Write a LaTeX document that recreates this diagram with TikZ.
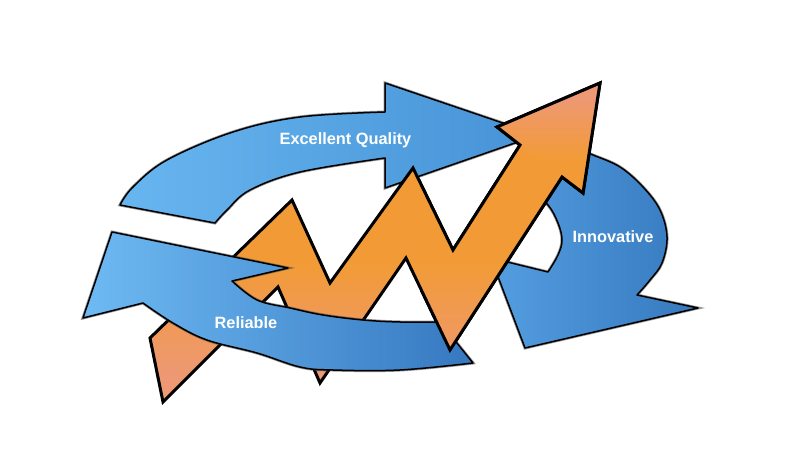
\documentclass[tikz,border=0pt]{standalone}
\usepackage{fontspec}
\newfontfamily\labfont{Liberation Sans}
\definecolor{orangeC}{RGB}{242,155,54}
\definecolor{salmonC}{RGB}{238,152,116}
\definecolor{eqL}{RGB}{104,182,240}
\definecolor{eqR}{RGB}{70,146,214}
\definecolor{inL}{RGB}{84,158,224}
\definecolor{inR}{RGB}{54,120,190}
\definecolor{reL}{RGB}{110,186,243}
\definecolor{reR}{RGB}{54,120,192}
\pgfdeclareverticalshading{orsh}{100bp}{color(0bp)=(salmonC); color(29bp)=(salmonC); color(47bp)=(orangeC); color(100bp)=(orangeC)}
\pgfdeclareverticalshading{headsh}{100bp}{color(0bp)=(orangeC); color(40bp)=(orangeC); color(68bp)=(salmonC); color(100bp)=(salmonC)}
\tikzset{
  bluearrow/.style={draw=black, line width=1.5bp, line join=round,
    preaction={draw=black!75, line width=3bp, opacity=0.55}},
  orangeline/.style={draw=black, line width=3bp, line join=miter},
  lab/.style={text=white, font=\labfont\bfseries\fontsize{16.4}{19}\selectfont, inner sep=0pt}
}
\begin{document}
\begin{tikzpicture}[x=1bp,y=-1bp]
\useasboundingbox (0,0) rectangle (800,450);
\fill[white] (0,0) rectangle (800,450);

% orange zigzag vertices
\coordinate (T1) at (150,338);
\coordinate (P1o) at (292,200);
\coordinate (V1i) at (330,283);
\coordinate (P2o) at (413,168);
\coordinate (V2i) at (453,250);
\coordinate (Hu) at (520,145);
\coordinate (Hb1) at (497,127);
\coordinate (Htip) at (600,83);
\coordinate (Hb2) at (583,193);
\coordinate (Hl) at (562,177);
\coordinate (V2o) at (450,350);
\coordinate (P2i) at (406,258);
\coordinate (V1o) at (320,383);
\coordinate (P1i) at (278,287);
\coordinate (T2) at (163,402);

% Excellent Quality arrow
\path[bluearrow, left color=eqL, right color=eqR]
  (120,205) -- plot[smooth, tension=0.6] coordinates {(120,205) (133,187) (167,160) (233,132) (300,117) (385,112)}
  -- (385,83) -- (538,135) -- (385,188) -- (385,158)
  -- plot[smooth, tension=0.6] coordinates {(385,158) (300,172) (250,190) (227,210) (215,223)}
  -- cycle;

% Innovative arrow
\path[bluearrow, left color=inL, right color=inR]
  (575,148) -- plot[smooth, tension=0.6] coordinates {(575,148) (593,155) (620,167) (643,187) (660,210) (667,237) (662,263) (650,280) (637,295)}
  -- (698,308) -- (525,348) -- (491,258) -- (548,272)
  -- plot[smooth, tension=0.6] coordinates {(548,272) (558,255) (562,240) (558,223) (548,205) (530,190)}
  -- cycle;

% orange zigzag arrow (full)
\shade[shading=orsh]
  (T1) -- (P1o) -- (V1i) -- (P2o) -- (V2i) -- (Hu) -- (Hb1) -- (Htip) -- (Hb2) -- (Hl)
  -- (V2o) -- (P2i) -- (V1o) -- (P1i) -- (T2) -- cycle;
\shade[shading=headsh] (Hb1) -- (Htip) -- (Hb2) -- cycle;
\draw[orangeline]
  (T1) -- (P1o) -- (V1i) -- (P2o) -- (V2i) -- (Hu) -- (Hb1) -- (Htip) -- (Hb2) -- (Hl)
  -- (V2o) -- (P2i) -- (V1o) -- (P1i) -- (T2) -- cycle;

% Reliable arrow
\path[bluearrow, left color=reL, right color=reR]
  (112,232) -- (288,268) -- (232,281)
  -- plot[smooth, tension=0.6] coordinates {(232,281) (257,300) (290,308) (323,315) (363,320) (400,322) (440,322)}
  -- (473,363)
  -- plot[smooth, tension=0.6] coordinates {(473,363) (400,370) (333,370) (300,367) (257,353) (207,340) (173,323) (143,303)}
  -- (83,318) -- cycle;

% orange part lying over the Reliable arrow
\begin{scope}
\clip (420,0) rectangle (800,450);
\shade[shading=orsh]
  (T1) -- (P1o) -- (V1i) -- (P2o) -- (V2i) -- (Hu) -- (Hb1) -- (Htip) -- (Hb2) -- (Hl)
  -- (V2o) -- (P2i) -- (V1o) -- (P1i) -- (T2) -- cycle;
\shade[shading=headsh] (Hb1) -- (Htip) -- (Hb2) -- cycle;
\draw[orangeline]
  (T1) -- (P1o) -- (V1i) -- (P2o) -- (V2i) -- (Hu) -- (Hb1) -- (Htip) -- (Hb2) -- (Hl)
  -- (V2o) -- (P2i) -- (V1o) -- (P1i) -- (T2) -- cycle;
\end{scope}

% labels
\node[lab] (eq) at (345.5,140) {Excellent Quality};
\node[lab] (inn) at (613,237) {Innovative};
\node[lab] (rel) at (246,323) {Reliable};
\end{tikzpicture}
\end{document}
